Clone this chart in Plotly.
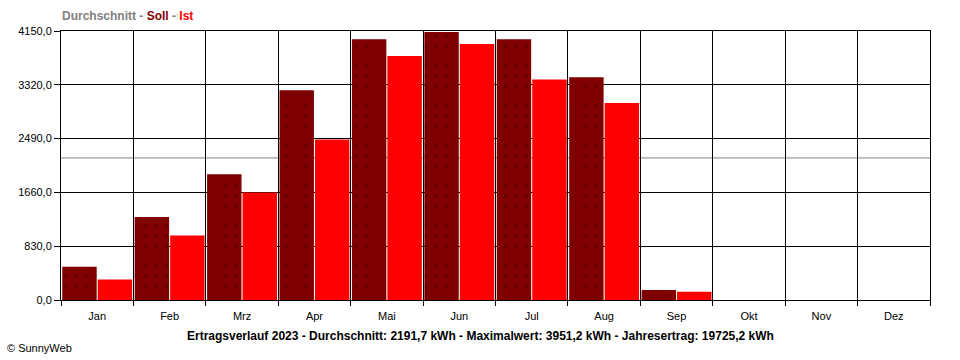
import plotly.graph_objects as go

months = ["Jan", "Feb", "Mrz", "Apr", "Mai", "Jun", "Jul", "Aug", "Sep", "Okt", "Nov", "Dez"]
soll = [513, 1279, 1941, 3236, 4022, 4134, 4022, 3436, 154, 0, 0, 0]
ist = [315, 995, 1660, 2475, 3763, 3951.2, 3400, 3038, 128, 0, 0, 0]
durchschnitt = 2191.7
y_ticks = [0, 830, 1660, 2490, 3320, 4150]
y_ticktext = ["0,0", "830,0", "1660,0", "2490,0", "3320,0", "4150,0"]

FONT = "Liberation Sans, Arial, sans-serif"
L, R, T, B = 61, 30, 31, 60
W, H = 960, 360
PW = W - L - R

fig = go.Figure()
fig.add_trace(go.Bar(
    x=months, y=soll, name="Soll",
    marker=dict(color="#800000", line=dict(width=0),
                pattern=dict(shape=".", fgcolor="black", bgcolor="#800000",
                             size=10, solidity=0.015, fillmode="replace")),
))
fig.add_trace(go.Bar(
    x=months, y=ist, name="Ist",
    marker=dict(color="#FF0000", line=dict(width=0)),
))

fig.add_shape(type="line", xref="paper", x0=0, x1=1, yref="y",
              y0=durchschnitt, y1=durchschnitt,
              line=dict(color="#808080", width=1), layer="below")

fig.update_layout(
    width=W, height=H,
    margin=dict(l=L, r=R, t=T, b=B),
    paper_bgcolor="white", plot_bgcolor="white",
    barmode="group", bargap=0.02, bargroupgap=0.03,
    showlegend=False,
    font=dict(family=FONT, size=11, color="black"),
)
fig.update_xaxes(
    type="category", tickson="boundaries",
    showgrid=True, gridcolor="black", gridwidth=1,
    ticks="outside", ticklen=5, tickcolor="black", tickwidth=1,
    ticklabelstandoff=6,
    showline=True, linecolor="black", linewidth=1, mirror=True,
    tickfont=dict(family=FONT, size=11, color="black"),
    fixedrange=True,
)
fig.update_yaxes(
    range=[0, 4150], tickvals=y_ticks, ticktext=y_ticktext,
    showgrid=True, gridcolor="black", gridwidth=1,
    zeroline=False,
    ticks="outside", ticklen=6, tickcolor="black", tickwidth=1,
    showline=True, linecolor="black", linewidth=1, mirror=True,
    tickfont=dict(family=FONT, size=11, color="black"),
    fixedrange=True,
)

fig.add_annotation(
    xref="paper", yref="paper", x=-0.001, y=1, yshift=15,
    xanchor="left", yanchor="middle", showarrow=False,
    text=("<b><span style='color:#808080'>Durchschnitt - </span>"
          "<span style='color:#800000'>Soll</span>"
          "<span style='color:#808080'> - </span>"
          "<span style='color:#FF0000'>Ist</span></b>"),
    font=dict(family=FONT, size=12),
)
fig.add_annotation(
    xref="paper", yref="paper", x=(480 - L) / PW, y=0, yshift=-36,
    xanchor="center", yanchor="middle", showarrow=False,
    text="<b>Ertragsverlauf 2023 - Durchschnitt: 2191,7 kWh - Maximalwert: 3951,2 kWh - Jahresertrag: 19725,2 kWh</b>",
    font=dict(family=FONT, size=12, color="black"),
)
fig.add_annotation(
    xref="paper", yref="paper", x=(5 - L) / PW, y=0, yshift=-48,
    xanchor="left", yanchor="middle", showarrow=False,
    text="© SunnyWeb",
    font=dict(family=FONT, size=11, color="black"),
)

fig.write_html("out.html",
               config={"displayModeBar": False, "staticPlot": True},
               post_script="document.body.style.margin='0';document.body.style.overflow='hidden';")
